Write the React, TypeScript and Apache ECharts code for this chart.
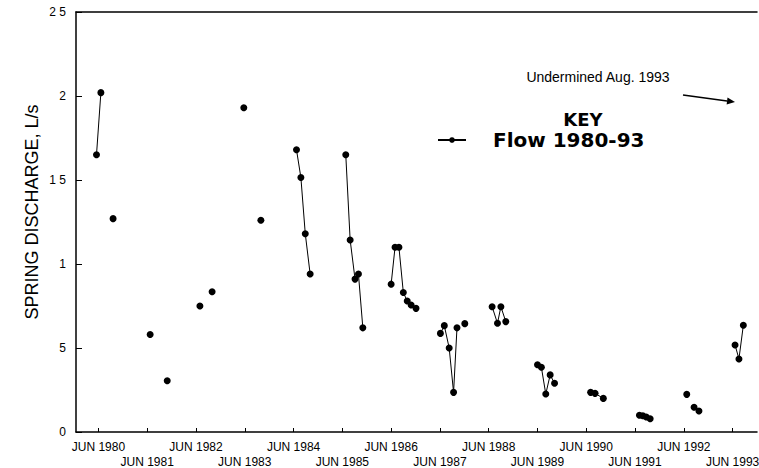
import React, { useEffect, useRef } from "react";
import * as echarts from "echarts";

// Tick years (labels placed at June of each year)
const tickYears = [1980, 1981, 1982, 1983, 1984, 1985, 1986, 1987, 1988, 1989, 1990, 1991, 1992, 1993];
const tickLabels = tickYears.map((y) => `JUN ${y}`);
const juneOffset = 0.42;

// Y tick labels as printed (decimal points lost in the original)
const yTickValues = [0, 0.5, 1, 1.5, 2, 2.5];
const yTickLabels = ["0", "5", "1", "1 5", "2", "2 5"];

// Sample dates (decimal years), discharge values (L/s), and connected-run ids
const sampleDates = [
  1980.38, 1980.47, 1980.72,
  1981.48, 1981.83,
  1982.5, 1982.75,
  1983.4, 1983.75,
  1984.48, 1984.57, 1984.66, 1984.76,
  1985.49, 1985.58, 1985.68, 1985.75, 1985.84,
  1986.42, 1986.5, 1986.58, 1986.67, 1986.75, 1986.83, 1986.93,
  1987.43, 1987.51, 1987.61, 1987.7, 1987.77, 1987.93,
  1988.49, 1988.6, 1988.67, 1988.77,
  1989.42, 1989.5, 1989.59, 1989.68, 1989.77,
  1990.51, 1990.6, 1990.77,
  1991.51, 1991.58, 1991.65, 1991.73,
  1992.48, 1992.63, 1992.73,
  1993.47, 1993.55, 1993.64,
];
const flowValues = [
  1.65, 2.02, 1.27,
  0.58, 0.305,
  0.75, 0.835,
  1.93, 1.26,
  1.68, 1.515, 1.18, 0.94,
  1.65, 1.143, 0.91, 0.94, 0.62,
  0.88, 1.1, 1.1, 0.83, 0.78, 0.756, 0.736,
  0.587, 0.633, 0.5, 0.236, 0.62, 0.645,
  0.746, 0.647, 0.746, 0.657,
  0.4, 0.385, 0.226, 0.34, 0.29,
  0.236, 0.23, 0.2,
  0.1, 0.097, 0.089, 0.079,
  0.224, 0.147, 0.125,
  0.518, 0.435, 0.635,
];
const runIds = [
  1, 1, 2,
  3, 4,
  5, 6,
  7, 8,
  9, 9, 9, 9,
  10, 10, 10, 10, 10,
  11, 11, 11, 11, 11, 11, 11,
  12, 12, 12, 12, 12, 13,
  14, 14, 14, 14,
  15, 15, 15, 15, 15,
  16, 16, 16,
  17, 17, 17, 17,
  18, 19, 19,
  20, 20, 20,
];

const FONT = "Liberation Sans, Arial, sans-serif";
const X_MIN = 1979.96;
const X_MAX = 1993.92;

export default function App() {
  const ref = useRef<HTMLDivElement>(null);

  useEffect(() => {
    if (!ref.current) return;
    const chart = echarts.init(ref.current, undefined, { renderer: "svg" });

    // Build line data with breaks between runs
    const data: any[] = [];
    for (let i = 0; i < sampleDates.length; i++) {
      if (i > 0 && runIds[i] !== runIds[i - 1]) {
        data.push([(sampleDates[i] + sampleDates[i - 1]) / 2, "-"]);
      }
      data.push([sampleDates[i], flowValues[i]]);
    }

    const tickPositions = tickYears.map((y) => y + juneOffset);
    const evenPositions = tickPositions.filter((_, i) => tickYears[i] % 2 === 0);
    const oddPositions = tickPositions.filter((_, i) => tickYears[i] % 2 === 1);
    const labelFor = (v: number) => {
      const idx = tickPositions.findIndex((p) => Math.abs(p - v) < 1e-6);
      return idx >= 0 ? tickLabels[idx] : "";
    };
    const labelStyle = {
      fontFamily: FONT,
      fontSize: 12,
      color: "#000",
      showMinLabel: true,
      showMaxLabel: true,
      hideOverlap: false,
      formatter: labelFor,
    };

    // Arrowhead geometry
    const tip = [735, 102];
    const start = [683, 95];
    const dx = tip[0] - start[0];
    const dy = tip[1] - start[1];
    const len = Math.sqrt(dx * dx + dy * dy);
    const ux = dx / len;
    const uy = dy / len;
    const hl = 8;
    const hw = 3.5;
    const bx = tip[0] - ux * hl;
    const by = tip[1] - uy * hl;

    chart.setOption({
      animation: false,
      backgroundColor: "#ffffff",
      grid: {
        left: 76,
        right: 2,
        top: 12,
        bottom: 36,
        containLabel: false,
        outerBoundsMode: "none",
      },
      legend: {
        show: true,
        data: ["Flow 1980-93"],
        left: 437,
        top: 130,
        padding: 0,
        itemWidth: 28,
        itemHeight: 7,
        textStyle: {
          fontFamily: "DejaVu Sans",
          fontWeight: "bold",
          fontSize: 20,
          color: "#000",
          padding: [0, 0, 0, 22],
        },
      },
      xAxis: [
        {
          type: "value",
          position: "bottom",
          min: X_MIN,
          max: X_MAX,
          splitLine: { show: false },
          axisLine: { show: true, onZero: false, lineStyle: { color: "#000", width: 1.5 } },
          axisTick: {
            show: true,
            inside: true,
            length: 4,
            customValues: tickPositions,
            lineStyle: { color: "#000", width: 1 },
          },
          axisLabel: { ...labelStyle, customValues: evenPositions, margin: 9 },
        },
        {
          type: "value",
          position: "top",
          min: X_MIN,
          max: X_MAX,
          splitLine: { show: false },
          axisLine: { show: true, onZero: false, lineStyle: { color: "#000", width: 1.5 } },
          axisTick: { show: false },
          axisLabel: { show: false },
        },
        {
          type: "value",
          position: "bottom",
          min: X_MIN,
          max: X_MAX,
          splitLine: { show: false },
          axisLine: { show: false, onZero: false },
          axisTick: { show: false },
          axisLabel: { ...labelStyle, customValues: oddPositions, margin: 24 },
        },
      ],
      yAxis: {
        type: "value",
        min: 0,
        max: 2.5,
        interval: 0.5,
        splitLine: { show: false },
        axisLine: { show: true, onZero: false, lineStyle: { color: "#000", width: 1.5 } },
        axisTick: { show: true, inside: true, length: 6, lineStyle: { color: "#000", width: 1 } },
        axisLabel: {
          margin: 10,
          showMinLabel: true,
          showMaxLabel: true,
          fontFamily: FONT,
          fontSize: 12,
          color: "#000",
          formatter: (v: number) => {
            const idx = yTickValues.findIndex((t) => Math.abs(t - v) < 1e-6);
            return idx >= 0 ? yTickLabels[idx] : "";
          },
        },
      },
      series: [
        {
          name: "Flow 1980-93",
          type: "line",
          xAxisIndex: 0,
          data,
          connectNulls: false,
          symbol: "circle",
          symbolSize: 7,
          showAllSymbol: true,
          itemStyle: { color: "#000" },
          lineStyle: { color: "#000", width: 1 },
        },
      ],
      graphic: [
        {
          type: "text",
          x: 32,
          y: 212,
          rotation: Math.PI / 2,
          style: {
            text: "SPRING DISCHARGE, L/s",
            fontFamily: FONT,
            fontSize: 18,
            fill: "#000",
            align: "center",
            verticalAlign: "middle",
          },
        },
        {
          type: "text",
          x: 583,
          y: 119,
          style: {
            text: "KEY",
            fontFamily: "DejaVu Sans",
            fontWeight: "bold",
            fontSize: 18,
            fill: "#000",
            align: "center",
            verticalAlign: "middle",
          },
        },
        {
          type: "text",
          x: 598,
          y: 77,
          style: {
            text: "Undermined Aug. 1993",
            fontFamily: FONT,
            fontSize: 14,
            fill: "#000",
            align: "center",
            verticalAlign: "middle",
          },
        },
        {
          type: "line",
          shape: { x1: start[0], y1: start[1], x2: bx, y2: by },
          style: { stroke: "#000", lineWidth: 1.5 },
        },
        {
          type: "polygon",
          shape: {
            points: [
              [tip[0], tip[1]],
              [bx - uy * hw, by + ux * hw],
              [bx + uy * hw, by - ux * hw],
            ],
          },
          style: { fill: "#000" },
        },
      ],
    });

    return () => chart.dispose();
  }, []);

  return (
    <div
      ref={ref}
      style={{ position: "fixed", left: 0, top: 0, width: 759, height: 468, background: "#fff" }}
    />
  );
}
